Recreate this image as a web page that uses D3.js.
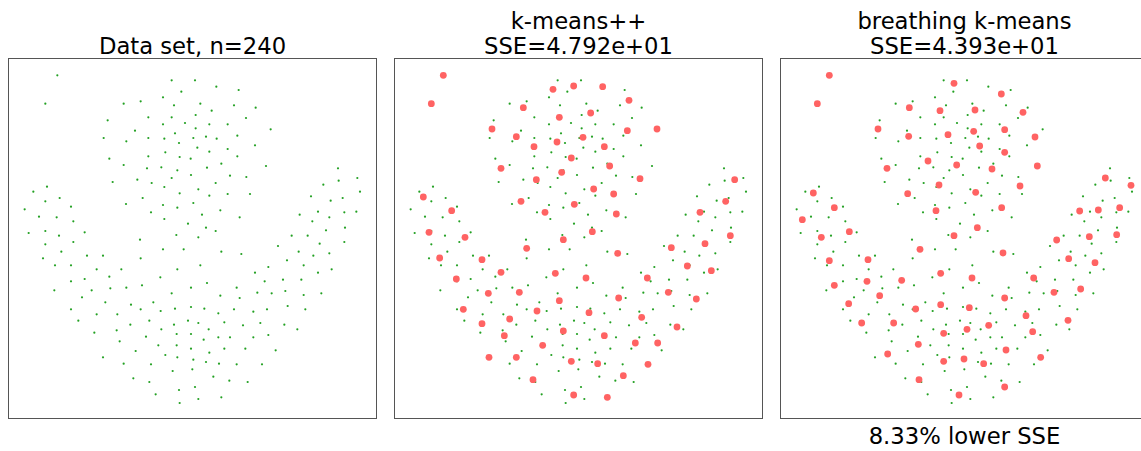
<!DOCTYPE html>
<html>
<head>
<meta charset="utf-8">
<script src="https://cdn.jsdelivr.net/npm/d3@7"></script>
<style>
  html, body { margin: 0; padding: 0; background: #fff; }
  text { font-family: "DejaVu Sans", sans-serif; fill: #000; }
</style>
</head>
<body>
<svg id="chart" width="1141" height="451"></svg>
<script>
// Data set (240 points), in plot units (y grows downwards)
const points = [
  [148,52],[112,137],[491,67],[520,101],[465,118],[398,130],[347,137],[498,142],[421,178],[491,178],
  [299,187],[531,195],[465,199],[381,218],[501,226],[287,240],[421,240],[469,242],[355,250],[513,255],
  [472,283],[421,295],[515,297],[304,302],[347,321],[417,331],[460,328],[508,337],[491,360],[388,365],
  [314,372],[431,375],[469,387],[117,386],[76,401],[155,420],[404,420],[112,430],[515,406],[189,446],
  [354,438],[465,441],[508,449],[50,454],[429,463],[93,476],[146,478],[469,483],[196,490],[62,525],
  [112,519],[230,523],
  [561,67],[625,86],[692,96],[577,137],[678,142],[611,158],[743,149],[563,171],[714,180],[604,199],
  [659,199],[563,211],[788,214],[556,240],[594,236],[626,242],[688,233],[568,269],[604,281],[659,273],
  [741,262],[688,295],[548,302],[640,317],[597,329],[774,324],[549,351],[666,353],[715,357],[623,375],
  [571,394],[604,413],[659,408],[726,408],[556,435],[637,457],[582,470],[695,478],[540,497],[594,509],
  [623,519],[990,331],[1048,360],[946,380],[992,368],[1056,401],[909,415],[1004,420],[968,428],[930,461],
  [1009,463],[1045,461],[875,470],[913,490],[964,478],[954,517],[1011,509],
  [153,533],[505,531],[196,552],[396,545],[112,559],[160,581],[465,574],[527,574],[105,601],[237,593],
  [285,593],[398,601],[141,622],[189,622],[266,634],[340,634],[508,634],[304,656],[230,663],[457,658],
  [189,670],[402,682],[355,689],[307,691],[251,697],[139,697],[491,706],[222,718],[292,733],[436,733],
  [369,740],[398,754],[501,752],[189,754],[458,759],[266,769],[328,769],[424,788],[211,788],[367,800],
  [498,800],[460,814],[326,817],[259,824],[506,828],[414,836],[335,850],[451,862],[506,862],[383,879],
  [472,891],[508,898],[285,898],[347,917],[429,919],[494,939],[376,961],[424,972],[513,996],[443,1009],
  [515,1035],
  [571,538],[851,533],[899,533],[1009,552],[935,557],[810,564],[640,581],[700,588],[872,581],[964,586],
  [916,593],[837,607],[577,622],[781,627],[887,622],[971,634],[930,644],[741,644],[770,670],[825,665],
  [880,665],[549,689],[597,675],[686,689],[637,713],[695,720],[748,704],[791,706],[832,699],[887,711],
  [940,706],[549,747],[589,752],[678,754],[631,766],[736,761],[777,754],[839,744],[892,754],[540,788],
  [571,795],[649,793],[705,802],[757,795],[829,800],[868,814],[549,828],[602,814],[587,845],[631,838],
  [666,838],[736,838],[781,831],[549,872],[604,884],[649,872],[712,872],[803,877],[556,905],[594,912],
  [633,917],[686,919],[762,919],[553,934],[616,956],[664,968],[719,972],[561,987],[571,1023],[640,1018]
]

// k-means++ centroids (80)
const centersKpp = [
  [148,52],[112,137],[539,84],[477,94],[388,149],[496,178],[294,213],[367,236],[567,238],[489,252],
  [420,266],[532,300],[321,331],[503,343],[427,365],[88,417],[381,430],[541,439],[173,458],[453,463],
  [105,523],[213,538],[508,545],
  [626,86],[705,127],[590,165],[700,218],[789,213],[631,266],[647,324],[738,362],[599,393],[659,408],
  [667,468],[595,521],[1022,365],[995,430],[918,463],
  [398,571],[137,600],[264,605],[321,643],[484,646],[187,663],[283,706],[376,703],[496,728],[208,754],
  [429,759],[347,783],[264,797],[508,819],[331,833],[446,862],[285,898],[367,898],[532,910],[417,965],
  [539,1011],
  [1009,533],[933,557],[832,569],[671,586],[880,624],[952,638],[576,660],[760,660],[674,720],[823,703],
  [907,723],[585,764],[743,778],[849,807],[631,833],[724,855],[791,855],[611,917],[762,919],[688,953],
  [640,1018]
]

// breathing k-means centroids (80)
const centersBkm = [
  [148,52],[112,137],[522,76],[388,149],[480,158],[294,213],[386,235],[504,230],[444,309],[530,321],
  [321,331],[477,381],[383,407],[100,405],[163,449],[67,485],[468,458],[208,521],[124,538],[522,533],
  [664,108],[585,156],[729,163],[581,220],[674,215],[765,237],[599,264],[674,283],[636,333],[772,324],
  [587,403],[720,384],[665,449],[592,509],[976,360],[1053,382],[1019,449],[955,456],[899,459],[1010,530],
  [928,536],[830,546],
  [420,574],[148,608],[264,605],[482,646],[261,670],[365,667],[163,682],[299,713],[206,737],[482,740],
  [407,753],[245,795],[341,795],[491,826],[415,859],[323,888],[491,910],[417,965],[537,1011],
  [669,585],[866,602],[945,614],[576,660],[761,660],[902,693],[822,703],[674,720],[568,749],[738,773],
  [626,802],[561,814],[864,787],[758,821],[678,876],[782,898],[552,903],[611,917],[674,987]
]

const panels = [
  { title: ['Data set, n=240'], centers: null, footer: null },
  { title: ['k-means++', 'SSE=4.792e+01'], centers: centersKpp, footer: null },
  { title: ['breathing k-means', 'SSE=4.393e+01'], centers: centersBkm, footer: '8.33% lower SSE' }
]

const svg = d3.select('#chart')
const panelW = 368
const panelH = 360
const gap = 18
const frameTop = 58.5
const fontSize = '22.7px'

panels.forEach((p, i) => {
  const left = 8.5 + i * (panelW + gap)
  const x = d3.scaleLinear().domain([0, 1104]).range([left - 0.5, left - 0.5 + 368])
  const y = d3.scaleLinear().domain([0, 1083]).range([frameTop - 0.5, frameTop - 0.5 + 361])
  const g = svg.append('g')

  g.append('rect')
    .attr('x', left).attr('y', frameTop)
    .attr('width', panelW).attr('height', panelH)
    .attr('fill', 'none')
    .attr('stroke', '#555')
    .attr('stroke-width', 1)

  g.append('g').selectAll('circle')
    .data(points)
    .join('circle')
    .attr('cx', d => x(d[0]))
    .attr('cy', d => y(d[1]))
    .attr('r', 1.1)
    .attr('fill', '#22a022')

  if (p.centers) {
    g.append('g').selectAll('circle')
      .data(p.centers)
      .join('circle')
      .attr('cx', d => x(d[0]))
      .attr('cy', d => y(d[1]))
      .attr('r', 3.4)
      .attr('fill', '#ff6363')
  }

  const cx = left + panelW / 2
  const lines = p.title
  lines.forEach((t, j) => {
    g.append('text')
      .attr('x', cx)
      .attr('y', 54 - (lines.length - 1 - j) * 25)
      .attr('text-anchor', 'middle')
      .style('font-size', fontSize)
      .text(t)
  })

  if (p.footer) {
    g.append('text')
      .attr('x', cx)
      .attr('y', 444)
      .attr('text-anchor', 'middle')
      .style('font-size', fontSize)
      .text(p.footer)
  }
})
</script>
</body>
</html>
